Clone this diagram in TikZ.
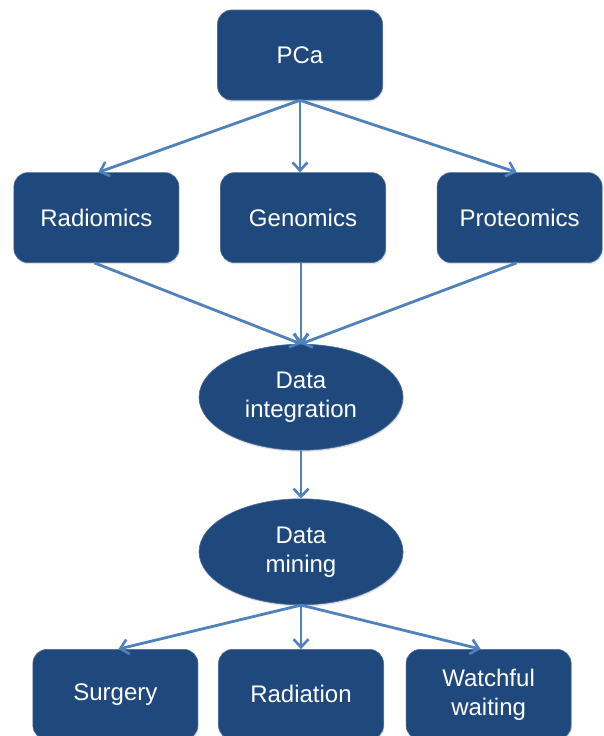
\documentclass[tikz,border=0pt]{standalone}
\usepackage{fontspec}
\setmainfont{Liberation Sans}
\usepackage{xcolor}
\usepackage{tikz}
\usetikzlibrary{shapes.geometric, arrows.meta, positioning, shadows}
\definecolor{boxblue}{HTML}{1F497D}
\definecolor{lineblue}{HTML}{4F81BD}
\tikzset{
    omicsbox/.style={rectangle, rounded corners=14pt, minimum width=165pt, minimum height=90pt, text centered, align=center, draw=boxblue!80!white, line width=0.6pt, fill=boxblue, text=white, font=\fontsize{24}{29}\selectfont, drop shadow={opacity=0.25, shadow xshift=0.8pt, shadow yshift=-1.6pt}},
    dataoval/.style={ellipse, minimum width=204pt, minimum height=106pt, inner sep=0pt, text centered, align=center, draw=boxblue!80!white, line width=0.6pt, fill=boxblue, text=white, font=\fontsize{24}{29}\selectfont, drop shadow={opacity=0.25, shadow xshift=0.8pt, shadow yshift=-1.6pt}},
    arrow/.style={line width=2.8pt, draw=lineblue, -{Straight Barb[length=8pt, width=15pt, line width=2.6pt]}}
}
\begin{document}
\begin{tikzpicture}[x=1pt, y=1pt]
    \useasboundingbox (0,0) rectangle (603,-736);
    \node (pca) [omicsbox] at (300,-55) {PCa};
    \node (genomics) [omicsbox, below=72pt of pca, xshift=3pt] {Genomics};
    \node (radiomics) [omicsbox, left=41pt of genomics] {Radiomics};
    \node (proteomics) [omicsbox, right=51pt of genomics] {Proteomics};
    \node (integ) [dataoval, below=81pt of genomics, xshift=-2pt] {Data\\integration};
    \node (mining) [dataoval, below=48pt of integ] {Data\\mining};
    \node (radiation) [omicsbox, below=44pt of mining] {Radiation};
    \node (surgery) [omicsbox, left=20pt of radiation] {Surgery};
    \node (waiting) [omicsbox, right=22pt of radiation] {Watchful\\waiting};
    
    \draw [arrow] (pca.south) -- (genomics.north -| pca.south);
    \draw [arrow] (pca.south) -- ([xshift=2pt]radiomics.north);
    \draw [arrow] (pca.south) -- ([xshift=-3pt]proteomics.north);
    \draw [arrow] ([xshift=-2pt]radiomics.south) -- (integ.north);
    \draw [arrow] (genomics.south -| integ.north) -- (integ.north);
    \draw [arrow] ([xshift=-3pt]proteomics.south) -- (integ.north);
    \draw [arrow] (integ) -- (mining);
    \draw [arrow] (mining.south) -- ([xshift=3pt]surgery.north);
    \draw [arrow] (mining.south) -- (radiation.north);
    \draw [arrow] (mining.south) -- ([xshift=-8pt]waiting.north);
\end{tikzpicture}
\end{document}
